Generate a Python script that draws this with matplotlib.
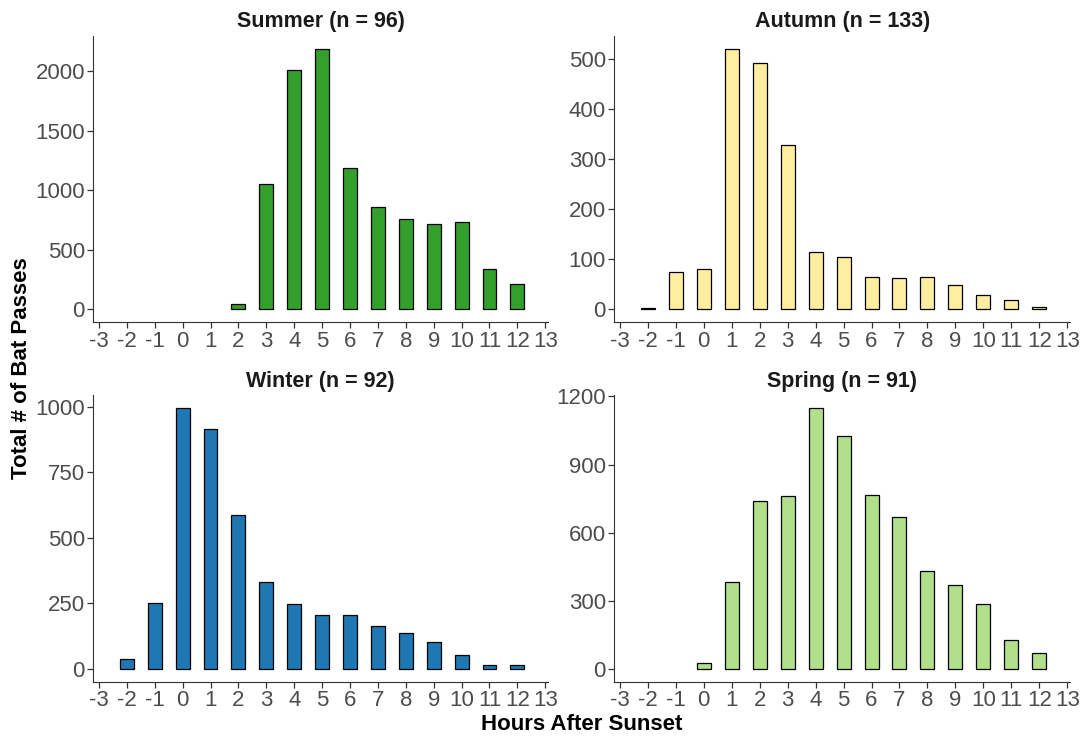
import numpy as np
import matplotlib
matplotlib.use("Agg")
import matplotlib.pyplot as plt

plt.rcParams['font.family'] = ['Liberation Sans', 'DejaVu Sans']
plt.rcParams['axes.unicode_minus'] = False

hours = list(range(-3, 13))

# values, one per hour (-3 .. 12)
summer = [0, 0, 0, 0, 0, 47, 1053, 2011, 2187, 1189, 855, 755, 716, 735, 334, 214]
autumn = [0, 2, 75, 80, 520, 492, 328, 115, 105, 65, 62, 65, 49, 29, 18, 5]
winter = [0, 38, 251, 995, 915, 587, 332, 246, 204, 204, 162, 136, 102, 51, 14, 14]
spring = [0, 0, 0, 25, 383, 740, 761, 1149, 1025, 767, 668, 432, 367, 285, 128, 69]

titles = ["Summer (n = 96)", "Autumn (n = 133)", "Winter (n = 92)", "Spring (n = 91)"]
colors = ["#33a02c", "#ffeda0", "#1f78b4", "#b2df8a"]
yticks = [np.arange(0, 2001, 500), np.arange(0, 501, 100),
          np.arange(0, 1001, 250), np.arange(0, 1201, 300)]
series = [summer, autumn, winter, spring]

fig = plt.figure(figsize=(10.84, 7.36), dpi=100)

lefts = [0.0861, 0.5667, 0.0861, 0.5667]
widths = [0.4195, 0.4204, 0.4195, 0.4204]
bottoms = [0.5621, 0.5621, 0.0739, 0.0739]
h = 0.3894

for i in range(4):
    ax = fig.add_axes([lefts[i], bottoms[i], widths[i], h])
    vals = np.array(series[i])
    x = np.array(hours)
    keep = vals > 0
    ax.bar(x[keep], vals[keep], width=0.5, color=colors[i], edgecolor="black", linewidth=0.9)
    top = vals.max()
    ax.set_ylim(-0.05 * top, 1.05 * top)
    ax.set_xlim(-3.2, 13.1)
    ax.set_xticks(range(-3, 14))
    ax.set_yticks(yticks[i])
    ax.set_title(titles[i], fontsize=15.5, fontweight="bold", color="#1a1a1a", pad=6)
    ax.spines['top'].set_visible(False)
    ax.spines['right'].set_visible(False)
    ax.spines['left'].set_color("#333333")
    ax.spines['bottom'].set_color("#333333")
    ax.tick_params(axis='both', labelsize=16, labelcolor="#4d4d4d", color="#333333",
                   length=4, width=0.9, pad=2)

fig.text(0.02, 0.5, "Total # of Bat Passes", rotation=90, fontsize=16, fontweight="bold",
         ha="center", va="center")
fig.text(0.537, 0.016, "Hours After Sunset", fontsize=16, fontweight="bold",
         ha="center", va="center")

fig.savefig("out.png", dpi=100)
